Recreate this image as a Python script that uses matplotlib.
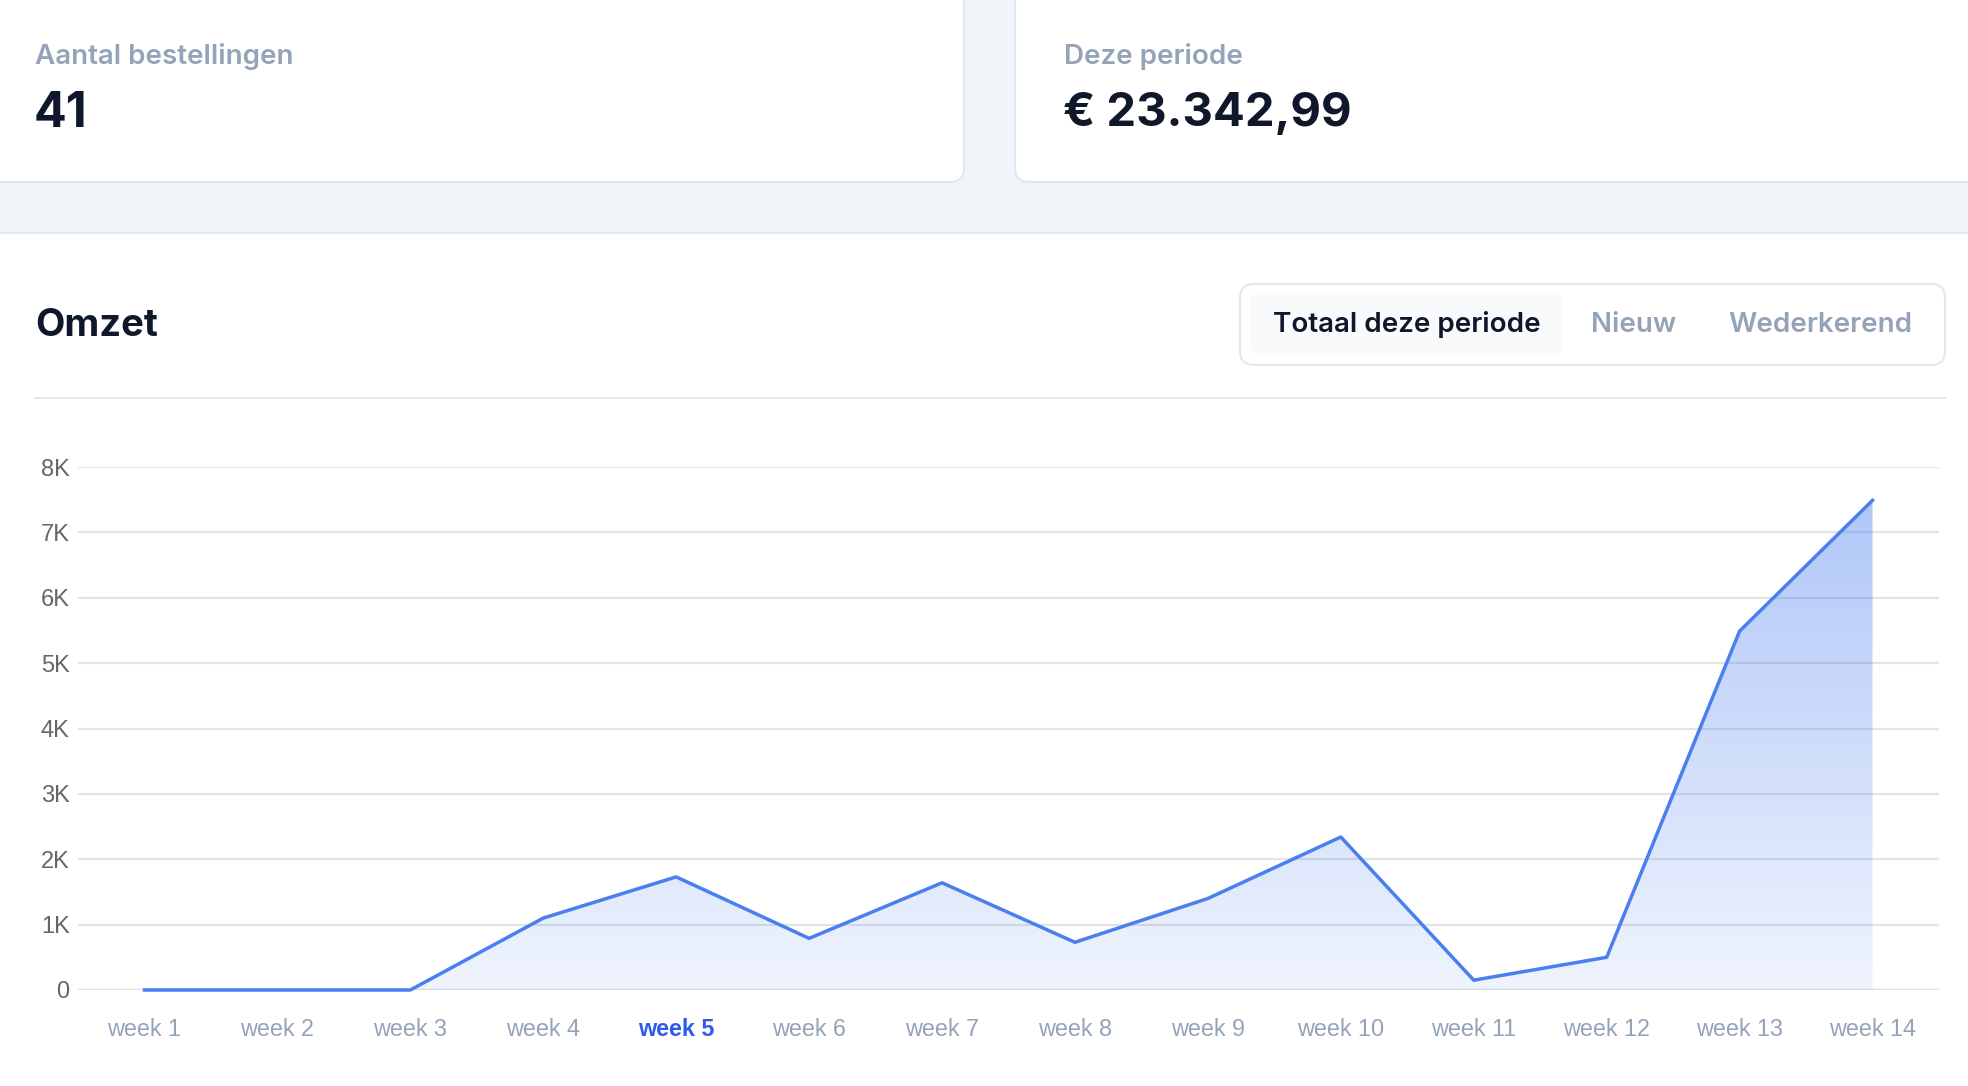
import matplotlib
matplotlib.use("Agg")
import matplotlib.pyplot as plt
import numpy as np
from matplotlib.patches import FancyBboxPatch, Rectangle
from matplotlib.colors import LinearSegmentedColormap, to_rgb

plt.rcParams['font.family'] = ['Inter', 'DejaVu Sans']

# data
weeks = ["week 1", "week 2", "week 3", "week 4", "week 5", "week 6", "week 7",
         "week 8", "week 9", "week 10", "week 11", "week 12", "week 13", "week 14"]
revenue = [0, 0, 0, 1100, 1730, 790, 1640, 730, 1400, 2340, 150, 500, 5490, 7490]
y_ticks = [0, 1000, 2000, 3000, 4000, 5000, 6000, 7000, 8000]
y_tick_labels = ["0", "1K", "2K", "3K", "4K", "5K", "6K", "7K", "8K"]
active_week = "week 5"

orders_label = "Aantal bestellingen"
orders_value = "41"
period_label = "Deze periode"
period_value = "€ 23.342,99"
chart_title = "Omzet"
tabs = ["Totaal deze periode", "Nieuw", "Wederkerend"]

DARK = '#0F172A'
MUTED = '#94A3B8'
BORDER = '#E2E8F0'
BLUE = '#4A7FEF'

W, H = 1968, 1086
fig = plt.figure(figsize=(W / 100, H / 100), dpi=100)
fig.patch.set_facecolor('white')

# background layer in pixel coordinates
bg = fig.add_axes([0, 0, 1, 1])
bg.set_xlim(0, W)
bg.set_ylim(H, 0)
bg.axis('off')

bg.add_patch(Rectangle((0, 0), W, 233, color='#F1F4F9', lw=0))
bg.plot([0, W], [233, 233], color=BORDER, lw=1.5)

# top cards
for x0, w in [(-30, 994), (1015, 1000)]:
    bg.add_patch(FancyBboxPatch((x0, -30), w, 212,
                                boxstyle="round,pad=0,rounding_size=14",
                                fc='white', ec=BORDER, lw=1.5))

bg.text(35, 57, orders_label, fontsize=20, color=MUTED, fontweight='semibold', va='center')
bg.text(34, 114, orders_value, fontsize=35, color=DARK, fontweight='bold', va='center')
bg.text(1064, 57, period_label, fontsize=20, color=MUTED, fontweight='semibold', va='center')
bg.text(1063, 114, period_value, fontsize=34, color=DARK, fontweight='bold', va='center')

# chart header
bg.text(35, 326, chart_title, fontsize=27.5, color=DARK, fontweight='bold', va='center')
bg.plot([35, 1945], [398, 398], color=BORDER, lw=1.5)

bg.add_patch(FancyBboxPatch((1240, 284), 705, 81,
                            boxstyle="round,pad=0,rounding_size=14",
                            fc='white', ec=BORDER, lw=1.5))
bg.add_patch(FancyBboxPatch((1250, 292), 313, 63,
                            boxstyle="round,pad=0,rounding_size=12",
                            fc='#F8FAFC', ec='none'))
tab_x = [1407, 1634, 1820]
for i, (t, tx) in enumerate(zip(tabs, tab_x)):
    bg.text(tx, 325, t, fontsize=20, ha='center', va='center', fontweight='semibold',
            color=DARK if i == 0 else MUTED)

# the chart itself
ax = fig.add_axes([78 / W, 1 - 990 / H, (1939 - 78) / W, (990 - 467) / H])
ax.patch.set_alpha(0)
x = np.arange(len(weeks))

poly = ax.fill_between(x, revenue, 0, color='none', lw=0)
r, g, b = to_rgb(BLUE)
cmap = LinearSegmentedColormap.from_list('fade', [(r, g, b, 0.09), (r, g, b, 0.44)])
grad = np.linspace(0, 1, 256).reshape(-1, 1)
img = ax.imshow(grad, extent=[x[0], x[-1], 0, max(revenue)], origin='lower',
                aspect='auto', cmap=cmap, zorder=1, interpolation='bilinear')
img.set_clip_path(poly.get_paths()[0], transform=ax.transData)

ax.plot(x, revenue, color=BLUE, lw=2.5, zorder=3, clip_on=False)

ax.set_xlim(-0.5, len(weeks) - 0.5)
ax.set_ylim(0, 8000)
ax.set_yticks(y_ticks)
ax.set_yticklabels(y_tick_labels)
ax.set_xticks(x)
ax.set_xticklabels(weeks)
ax.yaxis.grid(True, color='#E3E3E3', lw=1.5)
ax.set_axisbelow(True)
ax.axhline(0, color='#CACACA', lw=1.6, zorder=0.5)
for s in ax.spines.values():
    s.set_visible(False)

ax.tick_params(axis='y', length=0, pad=6, labelsize=17, labelcolor='#666666')
ax.tick_params(axis='x', length=0, pad=20, labelsize=16.8, labelcolor=MUTED)
for lab in ax.get_yticklabels() + ax.get_xticklabels():
    lab.set_family(['Liberation Sans', 'DejaVu Sans'])
for lab in ax.get_xticklabels():
    if lab.get_text() == active_week:
        lab.set_color('#2F5BEA')
        lab.set_fontweight('bold')

fig.savefig('out.png', dpi=100, facecolor='white')
